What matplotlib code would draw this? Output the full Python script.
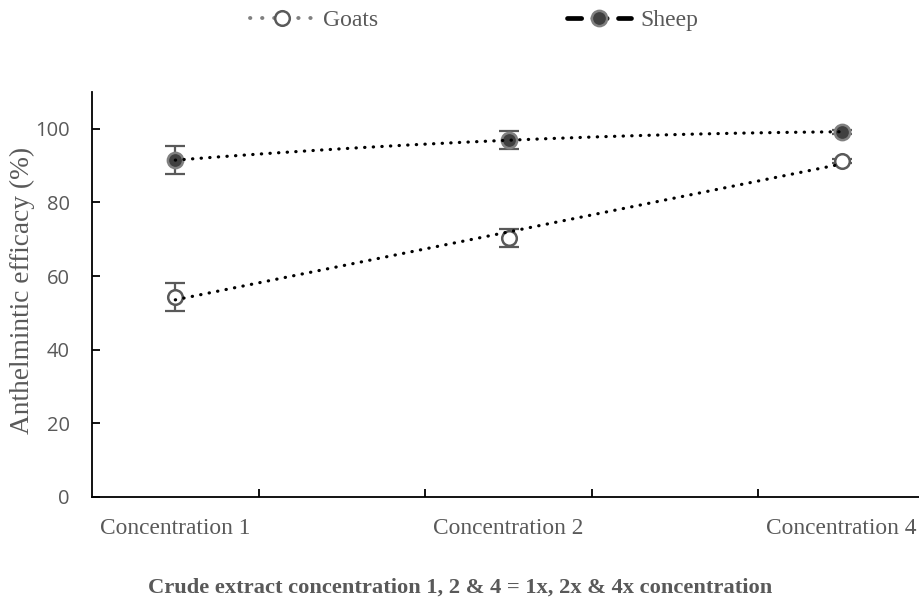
import numpy as np
import matplotlib
matplotlib.use("Agg")
import matplotlib.pyplot as plt
from matplotlib.lines import Line2D

# Category slots: labelled groups sit on slots 1, 3 and 5
slot_positions = [1, 3, 5]
category_labels = ["Concentration 1", "Concentration 2", "Concentration 4"]

goats_mean = [54.4, 70.3, 91.3]
goats_err = [3.8, 2.4, 0.6]
sheep_mean = [91.5, 96.9, 99.2]
sheep_err = [3.9, 2.5, 0.5]

yticks = [0, 20, 40, 60, 80, 100]

GRAY_TEXT = "#595959"
SERIF = "Liberation Serif"

fig = plt.figure(figsize=(9.2, 6.04), dpi=100)
ax = fig.add_axes([92 / 920, 1 - 497 / 604, (925 - 92) / 920, (497 - 92) / 604])

x = np.array(slot_positions, dtype=float)

# error bars and markers
ax.errorbar(x, goats_mean, yerr=goats_err, fmt="none", ecolor="#595959",
            elinewidth=1.6, capsize=7, capthick=1.6, zorder=2)
ax.errorbar(x, sheep_mean, yerr=sheep_err, fmt="none", ecolor="#595959",
            elinewidth=1.6, capsize=7, capthick=1.6, zorder=2)
ax.plot(x, goats_mean, linestyle="none", marker="o", markersize=10.5,
        markerfacecolor="white", markeredgecolor="#595959",
        markeredgewidth=1.8, zorder=3)
ax.plot(x, sheep_mean, linestyle="none", marker="o", markersize=11,
        markerfacecolor="#404040", markeredgecolor="#808080",
        markeredgewidth=1.8, zorder=3)

# trendlines: linear for goats, 2nd order polynomial for sheep
xs = np.linspace(x[0], x[-1], 200)
g_fit = np.polyval(np.polyfit(x, goats_mean, 1), xs)
s_fit = np.polyval(np.polyfit(x, sheep_mean, 2), xs)
dots = (0, (0.1, 2.6))
for yy in (g_fit, s_fit):
    ax.plot(xs, yy, color="black", linewidth=2.3, linestyle=dots,
            dash_capstyle="round", zorder=4)

# axes styling
ax.set_xlim(0.5, 5.5)
ax.set_ylim(0, 110)
for side in ("top", "right"):
    ax.spines[side].set_visible(False)
for side in ("left", "bottom"):
    ax.spines[side].set_linewidth(1.3)
    ax.spines[side].set_color("black")

ax.set_yticks(yticks)
ax.set_yticklabels([str(v) for v in yticks], fontfamily="Open Sans",
                   fontsize=14.5, color=GRAY_TEXT)
ax.tick_params(axis="y", direction="in", length=6, width=1.3, pad=16)

ax.set_xticks([1.5, 2.5, 3.5, 4.5])
ax.set_xticklabels([])
ax.tick_params(axis="x", which="major", direction="in", length=6, width=1.3)
ax.set_xticks(slot_positions, minor=True)
ax.set_xticklabels(category_labels, minor=True, fontfamily=SERIF,
                   fontsize=16.8, color=GRAY_TEXT)
ax.tick_params(axis="x", which="minor", length=0, pad=15)

fig.text(22 / 920, 1 - 290 / 604, "Anthelmintic efficacy (%)",
         rotation=90, ha="center", va="center", fontfamily=SERIF,
         fontsize=19.7, color=GRAY_TEXT)
fig.text(460 / 920, 1 - 588 / 604,
         "Crude extract concentration 1, 2 & 4 = 1x, 2x & 4x concentration",
         ha="center", va="center", fontfamily=SERIF, fontweight="bold",
         fontsize=16.2, color=GRAY_TEXT)

# legend
h_goats = Line2D([], [], color="#808080", linewidth=2.8,
                 linestyle=(0, (0.1, 3.0)), dash_capstyle="round",
                 marker="o", markersize=10.5, markerfacecolor="white",
                 markeredgecolor="#595959", markeredgewidth=1.8)
h_sheep = Line2D([], [], color="black", linewidth=3.4,
                 linestyle=(0, (3.0, 2.4)), dash_capstyle="round",
                 marker="o", markersize=11, markerfacecolor="#404040",
                 markeredgecolor="#808080", markeredgewidth=1.8)
leg = fig.legend([h_goats, h_sheep], ["Goats", "Sheep"], loc="center",
                 bbox_to_anchor=(474 / 920, 1 - 20 / 604), ncol=2,
                 frameon=False, handlelength=2.7, handletextpad=0.4,
                 columnspacing=8.0,
                 prop={"family": SERIF, "size": 17})
for t in leg.get_texts():
    t.set_color(GRAY_TEXT)

fig.savefig("out.png", dpi=100)
